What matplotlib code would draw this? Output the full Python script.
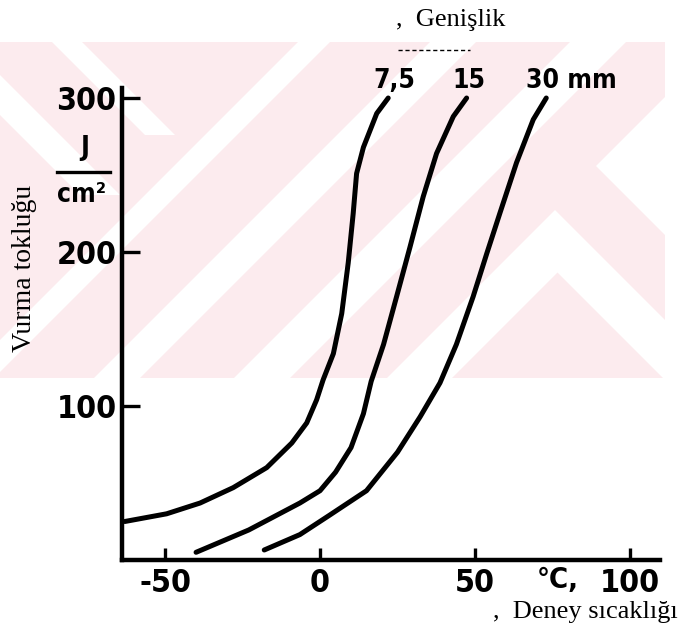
import matplotlib
matplotlib.use('Agg')
import matplotlib.pyplot as plt
from matplotlib import font_manager as fm
from matplotlib.patches import Polygon, Rectangle
from matplotlib.lines import Line2D

W, H = 683, 627

# ── Data ─────────────────────────────────────────────────────────────
# impact toughness (J/cm2) vs test temperature (°C) for three specimen widths
temp_75 = [-63, -49.5, -38.7, -28, -17.2, -9.1, -4.3, -1.1, 1, 4.3, 7, 9.1, 10.7, 11.8, 14, 18.3, 22]
tough_75 = [25, 30, 37, 47, 60, 76, 89, 104, 117, 134, 160, 193, 225, 251, 268, 290, 300]
temp_15 = [-40, -23, -6.5, 0, 5, 10, 14, 16.5, 20.5, 24.7, 29, 33.3, 37.6, 43, 47.3]
tough_15 = [5, 19.5, 37, 45, 57, 73, 95, 116, 140, 171, 203, 236, 264, 288, 300]
temp_30 = [-18, -6.5, 3, 15, 25, 32.3, 38.7, 44, 49.4, 53.8, 58, 63.4, 68.8, 73]
tough_30 = [6.5, 16.5, 29, 45, 70, 93, 115, 140, 171, 199, 225, 258, 286, 300]
width_labels = ['7,5', '15', '30 mm']
x_ticks = [-50, 0, 50, 100]
y_ticks = [100, 200, 300]

# the scan uses heavy condensed digits -> look for a narrow bold face
def _is_bold(f):
    return f.weight in (600, 700, 800, 900, 'bold', 'semibold', 'heavy', 'black')

narrow = [f for f in fm.fontManager.ttflist
          if ('Narrow' in f.name or 'Condensed' in f.name or 'condensed' in str(f.stretch))
          and _is_bold(f) and 'Mono' not in f.name and 'Serif' not in f.name]
if narrow:
    NUM = dict(fontproperties=fm.FontProperties(fname=narrow[0].fname))
else:
    NUM = dict(family='Liberation Sans', fontweight='bold')
SERIF = 'Liberation Serif'


def px(x, y):
    # pixel position in the 683x627 picture -> figure fraction
    return (x / W, 1 - y / H)


def num_text(obj, size):
    if 'fontproperties' in NUM:
        fp = NUM['fontproperties'].copy()
        fp.set_size(size)
        obj.set_fontproperties(fp)
    else:
        obj.set_family(NUM['family'])
        obj.set_fontweight('bold')
        obj.set_fontsize(size)


fig = plt.figure(figsize=(W / 100, H / 100), dpi=100)

# ── pink watermark band with white diagonal stripes ──────────────────
TOP, BOT = 42, 378
band = Rectangle(px(0, BOT), 665 / W, (BOT - TOP) / H, transform=fig.transFigure,
                 facecolor='#fcebee', edgecolor='none', zorder=0)
fig.add_artist(band)


def slash(c1, c2):      # x + y between c1 and c2
    return [(c1 - TOP, TOP), (c2 - TOP, TOP), (c2 - BOT, BOT), (c1 - BOT, BOT)]


def back(d1, d2, y0, y1):   # x - y between d1 and d2
    return [(d1 + y0, y0), (d2 + y0, y0), (d2 + y1, y1), (d1 + y1, y1)]


stripes = [
    back(10, 40, TOP, 135),
    back(-115, -75, TOP, 195),
    slash(340, 372),
    slash(472, 518),
    slash(612, 668),
    [(596, 166), (720, 42), (800, 42), (800, 370)],
    [(387, 378), (555, 210), (723, 378), (663, 378), (557.5, 272.5), (452, 378)],
]
for pts in stripes:
    p = Polygon([px(*q) for q in pts], closed=True, transform=fig.transFigure,
                facecolor='white', edgecolor='none', zorder=0.5)
    fig.add_artist(p)
    p.set_clip_path(band)

# ── axes ─────────────────────────────────────────────────────────────
ax = fig.add_axes([122 / W, 1 - 560 / H, (660 - 122) / W, (560 - 88) / H])
ax.set_zorder(2)
ax.set_facecolor('none')
ax.set_xlim(-63.9, 109.7)
ax.set_ylim(0, 306.5)

for t, v in [(temp_75, tough_75), (temp_15, tough_15), (temp_30, tough_30)]:
    ax.plot(t, v, color='black', lw=3.6, solid_capstyle='round', solid_joinstyle='round')

for t, v, lab, dx in zip([temp_75, temp_15, temp_30], [tough_75, tough_15, tough_30],
                         width_labels, [6, 2, -20]):
    tx = ax.annotate(lab, (t[-1], v[-1]), xytext=(dx, 17), textcoords='offset pixels',
                     ha='center' if dx >= 0 else 'left', va='center')
    num_text(tx, 19)

for s in ['top', 'right']:
    ax.spines[s].set_visible(False)
for s in ['left', 'bottom']:
    ax.spines[s].set_linewidth(3.2)

ax.set_xticks(x_ticks)
ax.set_xticklabels([str(v) for v in x_ticks])
ax.set_yticks(y_ticks)
ax.set_yticklabels([str(v) for v in y_ticks])
ax.tick_params(axis='y', direction='in', length=13, width=2.4, pad=4)
ax.tick_params(axis='x', direction='in', length=9, width=2.4, pad=6)
for lab in ax.get_xticklabels() + ax.get_yticklabels():
    num_text(lab, 23)

# ── unit and axis texts ──────────────────────────────────────────────
num_text(fig.text(*px(85, 148), 'J', ha='center', va='center'), 19)
fig.add_artist(Line2D([57 / W, 110 / W], [1 - 172 / H] * 2, color='black', lw=2.4, zorder=3))
num_text(fig.text(*px(82, 195), 'cm²', ha='center', va='center'), 19)
num_text(fig.text(*px(558, 580), '°C,', ha='center', va='center'), 21)

fig.text(*px(25, 268), 'Vurma tokluğu', rotation=90, ha='center', va='center',
         family=SERIF, fontsize=20, zorder=3)
fig.text(*px(396, 20), ',  Genişlik', ha='left', va='center', family=SERIF, fontsize=19)
fig.add_artist(Line2D([398 / W, 470 / W], [1 - 50 / H] * 2, color='black', lw=1, ls=(0, (3, 2))))
fig.text(*px(678, 612), ',  Deney sıcaklığı', ha='right', va='center', family=SERIF, fontsize=19)

fig.savefig('out.png', dpi=100)
